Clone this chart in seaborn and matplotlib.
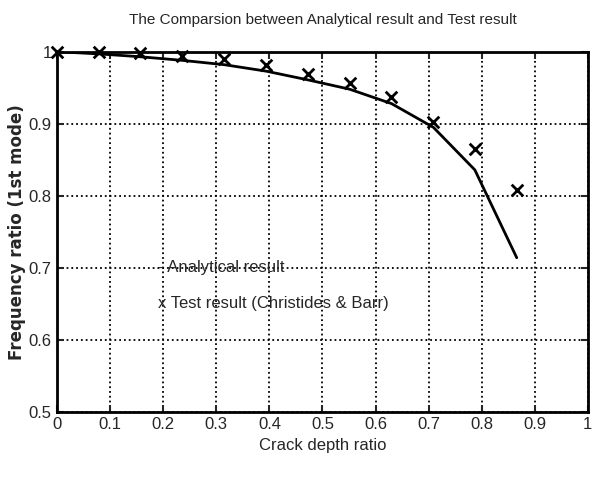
import numpy as np
import pandas as pd
import matplotlib
matplotlib.use("Agg")
import matplotlib.pyplot as plt
from matplotlib.ticker import FuncFormatter
import seaborn as sns

# crack depth ratio at which both results were taken
crack_depth = [0.0, 0.079, 0.157, 0.236, 0.315, 0.394, 0.472, 0.551, 0.630, 0.709, 0.787, 0.866]
# analytical frequency ratio (1st mode)
analytical = [1.0, 0.997, 0.993, 0.988, 0.982, 0.973, 0.961, 0.948, 0.928, 0.895, 0.836, 0.714]
# test result (Christides & Barr)
test_result = [1.0, 0.999, 0.998, 0.994, 0.990, 0.981, 0.969, 0.956, 0.937, 0.902, 0.865, 0.808]

x_ticks = [0, 0.1, 0.2, 0.3, 0.4, 0.5, 0.6, 0.7, 0.8, 0.9, 1]
y_ticks = [0.5, 0.6, 0.7, 0.8, 0.9, 1]

df = pd.DataFrame({"depth": crack_depth, "analytical": analytical, "test": test_result})

sns.set_style("ticks")
plt.rcParams["font.family"] = ["Liberation Sans", "DejaVu Sans"]

fig = plt.figure(figsize=(5.95, 4.88), dpi=100)
ax = fig.add_axes([0.096, 0.156, 0.892, 0.738])

sns.lineplot(data=df, x="depth", y="analytical", ax=ax, color="black", linewidth=2)
sns.scatterplot(data=df, x="depth", y="test", ax=ax, marker="x", color="black",
                s=70, linewidth=2, zorder=5, clip_on=False)

ax.set_xlim(0, 1)
ax.set_ylim(0.5, 1)
ax.set_xticks(x_ticks)
ax.set_yticks(y_ticks)
fmt = FuncFormatter(lambda v, p: f"{v:g}")
ax.xaxis.set_major_formatter(fmt)
ax.yaxis.set_major_formatter(fmt)
ax.grid(True, linestyle=":", color="black", linewidth=1.3)
ax.tick_params(direction="in", top=True, right=True, length=5, width=1.5,
               labelsize=12, pad=4)
for s in ax.spines.values():
    s.set_linewidth(2)
    s.set_color("black")

ax.set_title("The Comparsion between Analytical result and Test result",
             fontsize=11, pad=20)
ax.set_xlabel("Crack depth ratio", fontsize=12, labelpad=4)
ax.set_ylabel("Frequency ratio (1st mode)", fontsize=12, fontweight="bold",
              family=["DejaVu Sans"], labelpad=2)

ax.text(0.19, 0.70, "- Analytical result", fontsize=12, va="center")
ax.text(0.19, 0.65, "x Test result (Christides & Barr)", fontsize=12, va="center")

fig.savefig("out.png", dpi=100)
